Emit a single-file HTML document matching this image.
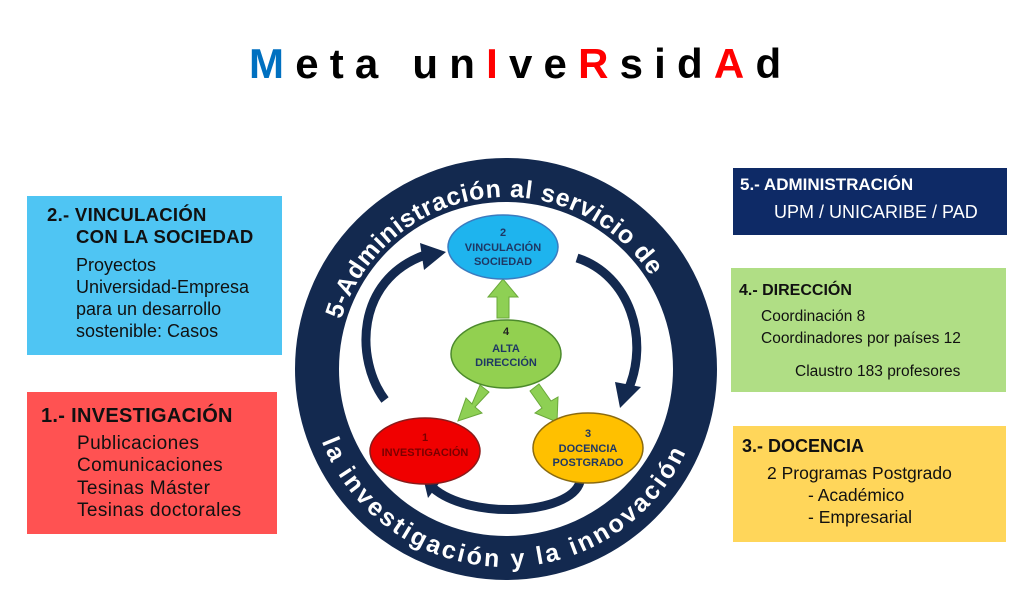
<!DOCTYPE html>
<html><head><meta charset="utf-8"><style>
body{margin:0;background:#fff;width:1024px;height:608px;overflow:hidden;font-family:"Liberation Sans",sans-serif}
.box{position:absolute;box-sizing:border-box;color:#111}
</style></head><body>
<div style="position:absolute;left:249px;top:40px;font:bold 42px 'Liberation Sans',sans-serif;letter-spacing:11.2px;white-space:nowrap"><span style="color:#0070c0">M</span>eta un<span style="color:#f00">I</span>ve<span style="color:#f00">R</span>sid<span style="color:#f00">A</span>d</div>

<div class="box" style="left:27px;top:196px;width:255px;height:159px;background:#4fc5f3;padding:8px 0 0 20px;font-size:18px;line-height:22px">
<div style="font-weight:bold;font-size:18.5px;letter-spacing:.3px">2.- VINCULACIÓN<br><span style="padding-left:29px">CON LA SOCIEDAD</span></div>
<div style="padding-left:29px;margin-top:6px;line-height:22px">Proyectos<br>Universidad-Empresa<br>para un desarrollo<br>sostenible: Casos</div></div>

<div class="box" style="left:27px;top:392px;width:250px;height:142px;background:#ff5252;padding:13px 0 0 14px;font-size:19px;line-height:22.5px">
<div style="font-weight:bold;font-size:20px;letter-spacing:.3px">1.- INVESTIGACIÓN</div>
<div style="padding-left:36px;margin-top:5px;letter-spacing:.4px">Publicaciones<br>Comunicaciones<br>Tesinas Máster<br>Tesinas doctorales</div></div>

<div class="box" style="left:733px;top:168px;width:274px;height:67px;background:#0e2a66;color:#fff;padding:7px 0 0 7px;font-size:17px">
<div style="font-weight:bold">5.- ADMINISTRACIÓN</div>
<div style="padding-left:34px;margin-top:7px;font-size:18px">UPM / UNICARIBE / PAD</div></div>

<div class="box" style="left:731px;top:268px;width:275px;height:124px;background:#b0de85;padding:10px 0 0 8px;font-size:15.5px;line-height:25px">
<div style="font-weight:bold;font-size:16px">4.- DIRECCIÓN</div>
<div style="padding-left:22px;line-height:22px;margin-top:3px">Coordinación 8<br>Coordinadores por países 12</div>
<div style="padding-left:56px;margin-top:9px">Claustro 183 profesores</div></div>

<div class="box" style="left:733px;top:426px;width:273px;height:116px;background:#ffd65a;padding:9px 0 0 9px;font-size:17.5px;line-height:22px">
<div style="font-weight:bold;font-size:18px">3.- DOCENCIA</div>
<div style="padding-left:25px;margin-top:5px">2 Programas Postgrado</div>
<div style="padding-left:66px">- Académico<br>- Empresarial</div></div>

<svg style="position:absolute;left:0;top:0" width="1024" height="608">
<defs>
<path id="tp" d="M334,369 A172,172 0 0 1 678,369"/>
<path id="bp" d="M308,369 A198,198 0 0 0 704,369"/>
</defs>
<circle cx="506" cy="369" r="189" fill="none" stroke="#13294f" stroke-width="44"/>
<text font-family="Liberation Sans" font-weight="bold" font-size="25" fill="#fff"><textPath href="#tp" startOffset="50" textLength="392" lengthAdjust="spacing">5-Administración al servicio de</textPath></text>
<text font-family="Liberation Sans" font-weight="bold" font-size="25" fill="#fff"><textPath href="#bp" startOffset="74" textLength="462" lengthAdjust="spacing">la investigación y la innovación</textPath></text>
<g fill="none" stroke="#13294f" stroke-width="9">
<path d="M385,400 C355,360 355,280 425,255"/>
<path d="M577,258 C630,275 650,340 628,390"/>
<path d="M580,482 C570,515 470,520 433,488"/>
</g>
<g fill="#13294f">
<polygon points="420,243 446,252 424,270"/>
<polygon points="615,382 641,387 620,408"/>
<polygon points="443,478 422,473 428,498"/>
</g>
<g fill="#8ed054" stroke="#6aa83a" stroke-width="1">
<polygon points="497,318 509,318 509,297 518,297 503,279 488,297 497,297"/>
<polygon points="480,385 489,392 475,407 482,413 458,421 466,398 472,404"/>
<polygon points="530,391 539,384 551,401 558,397 557,422 535,413 542,408"/>
</g>
<ellipse cx="503" cy="247" rx="55" ry="32" fill="#1eb4ee" stroke="#3b7bbf" stroke-width="1.5"/>
<ellipse cx="506" cy="354" rx="55" ry="34" fill="#92d050" stroke="#4c8a2c" stroke-width="1.5"/>
<ellipse cx="425" cy="451" rx="55" ry="33" fill="#f00000" stroke="#8a1a1a" stroke-width="1.5"/>
<ellipse cx="588" cy="448" rx="55" ry="35" fill="#ffc000" stroke="#8a6a10" stroke-width="1.5"/>
<g font-family="Liberation Sans" font-weight="bold" font-size="11" fill="#1f3864" text-anchor="middle">
<text x="503" y="236">2</text><text x="503" y="251">VINCULACIÓN</text><text x="503" y="265">SOCIEDAD</text>
<text x="506" y="335" fill="#222">4</text><text x="506" y="352">ALTA</text><text x="506" y="366">DIRECCIÓN</text>
<text x="425" y="441" fill="#7a0000">1</text><text x="425" y="456" fill="#7a0000">INVESTIGACIÓN</text>
<text x="588" y="437">3</text><text x="588" y="452">DOCENCIA</text><text x="588" y="466">POSTGRADO</text>
</g>
</svg>
</body></html>
